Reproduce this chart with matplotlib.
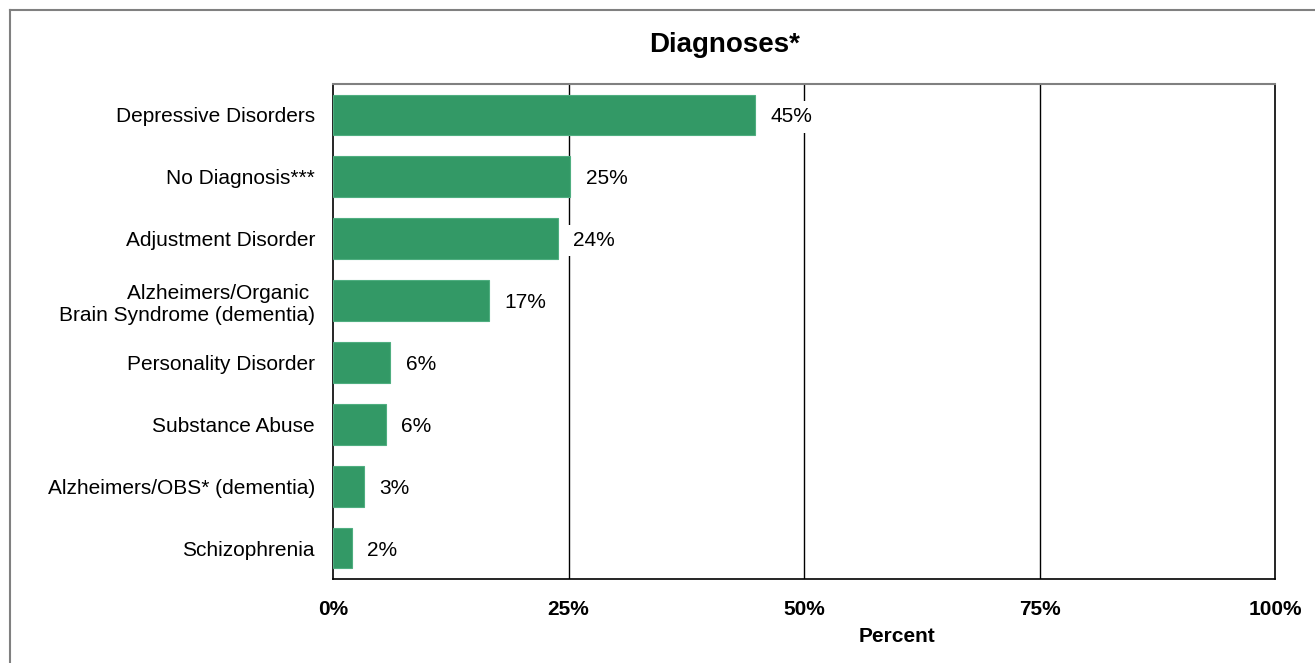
import matplotlib

matplotlib.use("Agg")
import matplotlib.pyplot as plt
from matplotlib.lines import Line2D

categories = [
    "Depressive Disorders",
    "No Diagnosis***",
    "Adjustment Disorder",
    "Alzheimers/Organic \nBrain Syndrome (dementia)",
    "Personality Disorder",
    "Substance Abuse",
    "Alzheimers/OBS* (dementia)",
    "Schizophrenia",
]
values = [44.8, 25.2, 23.9, 16.6, 6.1, 5.6, 3.3, 2.0]
value_labels = ["45%", "25%", "24%", "17%", "6%", "6%", "3%", "2%"]
xticks = [0, 25, 50, 75, 100]
xtick_labels = ["0%", "25%", "50%", "75%", "100%"]

plt.rcParams["font.family"] = ["Liberation Sans", "DejaVu Sans"]
plt.rcParams["font.size"] = 15

W, H = 1315, 663
fig = plt.figure(figsize=(W / 100, H / 100), dpi=100)
ax = fig.add_axes([333 / W, 84 / H, 942 / W, 495 / H])

y = range(len(categories))
ax.barh(list(y), values, height=0.66, color="#339966", edgecolor="#4fae80", linewidth=0.8, zorder=3)
ax.set_ylim(len(categories) - 0.5, -0.5)
ax.set_xlim(0, 100)

# value labels sit on white boxes that hide the gridlines behind them
for i, (v, lab) in enumerate(zip(values, value_labels)):
    ax.annotate(lab, (v, i), xytext=(11, 0), textcoords="offset points",
                ha="left", va="center_baseline", fontsize=15, zorder=5,
                bbox=dict(boxstyle="square,pad=0.3", fc="white", ec="none"))

ax.set_yticks(list(y))
ax.set_yticklabels(categories, ha="right", multialignment="right")
ax.set_xticks(xticks)
ax.set_xticklabels(xtick_labels, fontweight="bold")
ax.tick_params(axis="both", length=0)
ax.tick_params(axis="y", pad=13)
ax.tick_params(axis="x", pad=15)

for g in [25, 50, 75]:
    ax.axvline(g, color="black", lw=1.0, zorder=1)

for s in ["left", "bottom", "right"]:
    ax.spines[s].set_color("black")
    ax.spines[s].set_linewidth(1.2)
ax.spines["top"].set_color("#808080")
ax.spines["top"].set_linewidth(1.5)

fig.text(725 / W, 1 - 45 / H, "Diagnoses*", ha="center", va="center",
         fontsize=20, fontweight="bold")
fig.text(897 / W, 1 - 637 / H, "Percent", ha="center", va="center",
         fontsize=15, fontweight="bold")

# outer chart frame (only top and left edges visible)
fx, fy = 10 / W, 1 - 10 / H
fig.add_artist(Line2D([fx, 1], [fy, fy], transform=fig.transFigure, color="#808080", lw=1.5))
fig.add_artist(Line2D([fx, fx], [0, fy], transform=fig.transFigure, color="#808080", lw=1.5))

fig.savefig("out.png", dpi=100)
